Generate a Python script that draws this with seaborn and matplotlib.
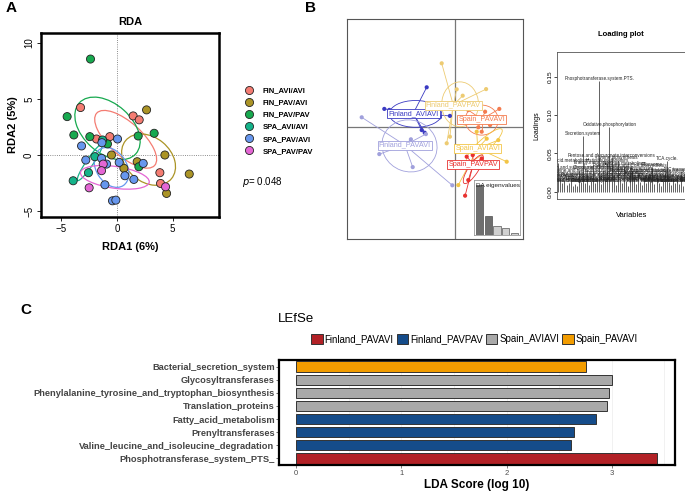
import numpy as np
import pandas as pd
import matplotlib
matplotlib.use('Agg')
import matplotlib.pyplot as plt
from matplotlib.patches import Ellipse
from matplotlib.ticker import MultipleLocator
import seaborn as sns

# ---------------- A: RDA sample scores ----------------
rda_groups = ['FIN_AVI/AVI', 'FIN_PAV/AVI', 'FIN_PAV/PAV', 'SPA_AVI/AVI', 'SPA_PAV/AVI', 'SPA_PAV/PAV']
rda_colors = ['#F47C72', '#AB9426', '#17A94F', '#14B38A', '#6797EE', '#E466D4']
rda_group = (['FIN_AVI/AVI'] * 7 + ['FIN_PAV/AVI'] * 7 + ['FIN_PAV/PAV'] * 8
             + ['SPA_AVI/AVI'] * 4 + ['SPA_PAV/AVI'] * 13 + ['SPA_PAV/PAV'] * 4)
rda1 = [-3.25, 1.46, 2.00, -1.82, -0.63, 3.85, 3.91,
        2.66, -0.48, 0.63, 1.82, 4.30, 6.48, 4.45,
        -2.36, -4.45, -3.85, -2.42, -0.84, 1.91, 3.34, 1.97,
        -1.28, -1.97, -2.54, -3.91,
        0.06, -1.34, -3.16, -2.78, -1.37, -0.92, 0.21, 2.36, 0.72, 1.52, -1.07, -0.39, -0.09,
        -1.22, -1.37, -2.48, 4.36]
rda2 = [4.24, 3.49, 3.14, 1.43, 1.64, -1.58, -2.54,
        4.03, 0.00, -1.19, -0.60, 0.00, -1.70, -3.43,
        8.57, 3.43, 1.79, 1.64, 0.99, 1.70, 1.94, -1.05,
        1.34, -0.15, -1.58, -2.30,
        1.43, 1.10, 0.81, -0.45, -0.30, -0.81, -0.66, -0.75, -1.85, -2.18, -2.66, -4.09, -4.03,
        -0.81, -1.40, -2.93, -2.84]
rda_pvalue = '0.048'

# ---------------- B: DAPC scatter ----------------
dapc_groups = ['Finland_AVIAVI', 'Finland_PAVAVI', 'Finland_PAVPAV', 'Spain_PAVAVI', 'Spain_AVIAVI', 'Spain_PAVPAV']
dapc_colors = ['#3A3AC2', '#A0A0DC', '#EDCB72', '#F47B4E', '#F2C546', '#E8312F']
dapc_center_x = [-2.07, -2.49, -0.07, 1.35, 1.15, 0.93]
dapc_center_y = [0.67, -0.92, 1.08, 0.37, -1.08, -1.87]
dapc_ell_x = [-1.96, -2.26, 0.27, 1.35, 1.48, 0.93]
dapc_ell_y = [0.64, -0.96, 1.12, 0.33, -0.92, -2.13]
dapc_ell_a = [1.31, 1.39, 1.12, 0.83, 1.18, 0.84]
dapc_ell_b = [0.67, 1.29, 0.92, 0.75, 0.30, 0.25]
dapc_ell_angle = [0, -20, 90, 0, 42, 57]
dapc_group = (['Finland_AVIAVI'] * 7 + ['Finland_PAVAVI'] * 6 + ['Finland_PAVPAV'] * 6
              + ['Spain_PAVAVI'] * 7 + ['Spain_AVIAVI'] * 5 + ['Spain_PAVPAV'] * 5)
dapc_ld1 = [-1.40, -3.52, -3.27, -0.24, -0.74, -1.65, -1.50,
            -4.65, -3.77, -2.10, -0.12, -2.19, -1.44,
            -0.65, 1.57, 0.10, -0.24, -0.40, 0.40,
            2.23, 1.52, 0.68, 1.18, 1.77, 1.35, 0.90,
            2.60, 2.18, 0.18, 1.10, 1.60,
            0.52, 0.60, 0.90, 1.35, 0.68]
dapc_ld2 = [1.97, 0.89, 0.84, 0.54, 0.47, -0.17, -0.30,
            0.47, -1.37, -2.02, -2.93, -0.63, -0.37,
            3.17, 1.88, 1.87, -0.50, -0.83, 1.55,
            0.89, 0.75, 0.83, -0.03, 0.08, -0.25, 0.30,
            -1.75, -0.67, -2.92, -0.25, -0.60,
            -3.45, -1.50, -1.42, -1.59, -2.67]
da_eigenvalues = [50.0, 19.3, 9.3, 6.7, 2.3]

# ---------------- B: loading plot ----------------
var_names = [
    'Cyanoamino.acid.metabolism', 'Two.component.system', 'Amino.sugar.and.nucleotide.sugar.metabolism',
    'Aminoacyl.tRNA.biosynthesis', 'Arginine.and.proline.metabolism', 'Bacterial.chemotaxis',
    'Bacterial.motility.proteins', 'Benzoate.degradation', 'Butanoate.metabolism',
    'Carbon.fixation.pathways.in.prokaryotes', 'Starch.and.sucrose.metabolism',
    'Chaperones.and.folding.catalysts', 'Secretion.system', 'Chromosome',
    'Cysteine.and.methionine.metabolism', 'DNA.repair.and.recombination.proteins',
    'DNA.replication.proteins', 'Energy.metabolism', 'Fatty.acid.biosynthesis',
    'Fructose.and.mannose.metabolism', 'Phosphotransferase.system.PTS.', 'Galactose.metabolism',
    'Glycolysis...Gluconeogenesis', 'Glycine..serine.and.threonine.metabolism', 'Histidine.metabolism',
    'Oxidative.phosphorylation', 'Pentose.and.glucuronate.interconversions', 'Homologous.recombination',
    'Lipopolysaccharide.biosynthesis', 'Lysine.biosynthesis', 'Methane.metabolism', 'Mismatch.repair',
    'Nitrogen.metabolism', 'Nucleotide.excision.repair', 'One.carbon.pool.by.folate',
    'Pantothenate.and.CoA.biosynthesis', 'Glycosyltransferases', 'Pentose.phosphate.pathway',
    'Peptidases', 'Peptidoglycan.biosynthesis', 'Porphyrin.metabolism', 'Propanoate.metabolism',
    'Protein.export', 'Purine.metabolism', 'Pyrimidine.metabolism', 'Pyruvate.metabolism', 'Ribosome',
    'Ribosome.Biogenesis', 'RNA.degradation', 'RNA.polymerase', 'Selenocompound.metabolism',
    'Sulfur.metabolism', 'Terpenoid.backbone.biosynthesis', 'TCA.cycle.', 'Thiamine.metabolism',
    'Transcription.factors', 'Transcription.machinery', 'Translation.factors', 'Transporters',
    'Tryptophan.metabolism', 'ABC.transporters', 'Tyrosine.metabolism', 'Ubiquinone.biosynthesis',
    'Valine..leucine.and.isoleucine.biosynthesis', 'Vitamin.B6.metabolism',
    'Membrane.and.intracellular.structural.molecules', 'Inositol.phosphate.metabolism',
    'Lipid.metabolism', 'Glutathione.metabolism', 'Folate.biosynthesis']
var_loadings = [0.038, 0.021, 0.012, 0.015, 0.009, 0.011, 0.018, 0.008, 0.010, 0.007,
                0.029, 0.013, 0.073, 0.011, 0.024, 0.009, 0.014, 0.035, 0.012, 0.019,
                0.145, 0.010, 0.028, 0.015, 0.038, 0.085, 0.044, 0.022, 0.009, 0.041,
                0.017, 0.011, 0.033, 0.014, 0.008, 0.031, 0.027, 0.019, 0.010, 0.025,
                0.013, 0.009, 0.016, 0.011, 0.022, 0.014, 0.032, 0.010, 0.018, 0.012,
                0.008, 0.015, 0.024, 0.040, 0.013, 0.009, 0.017, 0.012, 0.020, 0.010,
                0.026, 0.008, 0.016, 0.011, 0.013, 0.009, 0.012, 0.015, 0.010, 0.013]

# ---------------- C: LEfSe ----------------
lefse_features = ['Bacterial_secretion_system', 'Glycosyltransferases',
                  'Phenylalanine_tyrosine_and_tryptophan_biosynthesis', 'Translation_proteins',
                  'Fatty_acid_metabolism', 'Prenyltransferases',
                  'Valine_leucine_and_isoleucine_degradation', 'Phosphotransferase_system_PTS_']
lefse_lda = [2.75, 3.00, 2.97, 2.95, 2.85, 2.64, 2.61, 3.43]
lefse_class = ['Spain_PAVAVI', 'Spain_AVIAVI', 'Spain_AVIAVI', 'Spain_AVIAVI',
               'Finland_PAVPAV', 'Finland_PAVPAV', 'Finland_PAVPAV', 'Finland_PAVAVI']
lefse_classes = ['Finland_PAVAVI', 'Finland_PAVPAV', 'Spain_AVIAVI', 'Spain_PAVAVI']
lefse_colors = ['#B22126', '#154C8A', '#A9A9A9', '#F29C00']

plt.rcParams['font.family'] = ['Liberation Sans', 'DejaVu Sans']

W, H = 685, 492
fig = plt.figure(figsize=(6.85, 4.92), dpi=100)


def box(x0, y0, x1, y1):
    # pixel box (top-left origin) -> figure fraction rect
    return [x0 / W, 1 - y1 / H, (x1 - x0) / W, (y1 - y0) / H]


# ===== panel A =====
axA = fig.add_axes(box(41, 33.3, 219.3, 216.7))
df_rda = pd.DataFrame({'RDA1': rda1, 'RDA2': rda2, 'group': rda_group})
axA.axhline(0, color='#666666', ls=':', lw=0.6, zorder=0)
axA.axvline(0, color='#666666', ls=':', lw=0.6, zorder=0)
for g, c in zip(rda_groups, rda_colors):
    sub = df_rda[df_rda.group == g]
    vals, vecs = np.linalg.eigh(np.cov(sub.RDA1, sub.RDA2))
    ang = np.degrees(np.arctan2(vecs[1, 1], vecs[0, 1]))
    axA.add_patch(Ellipse((sub.RDA1.mean(), sub.RDA2.mean()), 2 * np.sqrt(vals[1]),
                          2 * np.sqrt(vals[0]), angle=ang, fill=False, ec=c, lw=0.9, zorder=1))
sns.scatterplot(data=df_rda, x='RDA1', y='RDA2', hue='group', hue_order=rda_groups,
                palette=rda_colors, s=34, edgecolor='#222222', linewidth=0.6, ax=axA, zorder=3)
axA.set_xlim(-6.79, 9.17)
axA.set_ylim(-5.51, 10.87)
axA.set_xticks([-5, 0, 5])
axA.set_yticks([-5, 0, 5, 10])
axA.tick_params(labelsize=7, length=3, width=0.6, pad=2)
axA.tick_params(axis='y', labelrotation=90)
for lbl in axA.get_yticklabels():
    lbl.set_va('center')
for s in axA.spines.values():
    s.set_linewidth(1.8)
axA.set_xlabel('RDA1 (6%)', fontsize=8, fontweight='bold', labelpad=6)
axA.set_ylabel('RDA2 (5%)', fontsize=8, fontweight='bold', labelpad=4)
axA.set_title('RDA', fontsize=8, fontweight='bold', pad=6)
sns.move_legend(axA, 'upper left', bbox_to_anchor=(245 / W, 1 - 87 / H), bbox_transform=fig.transFigure,
                frameon=False, title=None, borderpad=0, borderaxespad=0, handlelength=1.0,
                handletextpad=1.3, labelspacing=0.62, prop={'size': 5.5, 'weight': 'bold'})
fig.text(242 / W, 1 - 182 / H, r'$\it{p}$= ' + rda_pvalue, fontsize=7, va='center')

# ===== panel B: DAPC =====
axB = fig.add_axes(box(346.7, 19.3, 522.7, 239.3))
axB.axhline(0, color='#777777', lw=0.9, zorder=0)
axB.axvline(0, color='#777777', lw=0.9, zorder=0)
df_dapc = pd.DataFrame({'LD1': dapc_ld1, 'LD2': dapc_ld2, 'group': dapc_group})
for i, (g, c) in enumerate(zip(dapc_groups, dapc_colors)):
    sub = df_dapc[df_dapc.group == g]
    for x, y in zip(sub.LD1, sub.LD2):
        axB.plot([dapc_center_x[i], x], [dapc_center_y[i], y], color=c, lw=0.6, zorder=1)
    axB.add_patch(Ellipse((dapc_ell_x[i], dapc_ell_y[i]), 2 * dapc_ell_a[i], 2 * dapc_ell_b[i],
                          angle=dapc_ell_angle[i], fill=False, ec=c, lw=0.6, zorder=1))
sns.scatterplot(data=df_dapc, x='LD1', y='LD2', hue='group', hue_order=dapc_groups,
                palette=dapc_colors, s=9, linewidth=0, legend=False, ax=axB, zorder=2)
for i, (g, c) in enumerate(zip(dapc_groups, dapc_colors)):
    axB.text(dapc_center_x[i], dapc_center_y[i], g, color=c, fontsize=5.2, ha='center', va='center',
             zorder=4, bbox=dict(boxstyle='square,pad=0.15', fc='white', ec=c, lw=0.6))
axB.set_xlim(-5.4, 3.4)
axB.set_ylim(-5.63, 5.37)
axB.set_xticks([])
axB.set_yticks([])
axB.set_xlabel('')
axB.set_ylabel('')
for s in axB.spines.values():
    s.set_linewidth(0.8)
    s.set_color('#555555')

axE = fig.add_axes(box(474, 180, 520, 235))
axE.bar(range(len(da_eigenvalues)), da_eigenvalues, width=0.85,
        color=['#6E6E6E', '#6E6E6E', '#D0D0D0', '#D0D0D0', '#D0D0D0'], edgecolor='#333333', lw=0.4)
axE.set_xlim(-0.65, 4.65)
axE.set_ylim(0, 55)
axE.set_xticks([])
axE.set_yticks([])
axE.text(0.05, 0.9, 'DA eigenvalues', transform=axE.transAxes, fontsize=4.6, va='center', color='#222222')
for s in axE.spines.values():
    s.set_linewidth(0.6)
    s.set_color('#999999')

# ===== panel B: loading plot =====
axL = fig.add_axes(box(557.3, 51.7, 706, 199))
pos = np.arange(1, len(var_loadings) + 1)
axL.vlines(pos, 0, var_loadings, color='#222222', lw=0.5)
for x, y, name in zip(pos, var_loadings, var_names):
    if y >= 0.011:
        axL.text(x, y, name, fontsize=3.3, ha='center', va='bottom', color='#222222', clip_on=True)
axL.set_xlim(0.5, 73.2)
axL.set_ylim(-0.0095, 0.1828)
axL.set_xticks([])
axL.set_yticks([0.0, 0.05, 0.10, 0.15])
axL.set_yticklabels(['0.00', '0.05', '0.10', '0.15'])
axL.tick_params(axis='y', labelsize=4.6, labelrotation=90, length=2, width=0.5, pad=1.5)
for lbl in axL.get_yticklabels():
    lbl.set_va('center')
for s in axL.spines.values():
    s.set_linewidth(0.6)
    s.set_color('#555555')
axL.set_ylabel('Loadings', fontsize=5, labelpad=5)
axL.set_xlabel('Variables', fontsize=5.5, labelpad=9)
fig.text(621 / W, 1 - 35 / H, 'Loading plot', fontsize=5.5, fontweight='bold', ha='center', va='center')

# ===== panel C: LEfSe =====
axC = fig.add_axes(box(278.7, 359.7, 675, 465.3))
df_c = pd.DataFrame({'feature': lefse_features, 'lda': lefse_lda, 'cls': lefse_class})
axC.set_axisbelow(True)
axC.xaxis.set_minor_locator(MultipleLocator(0.5))
axC.grid(axis='x', which='both', color='#EBEBEB', lw=0.5)
axC.grid(axis='y', which='major', color='#EBEBEB', lw=0.5)
sns.barplot(data=df_c, x='lda', y='feature', hue='cls', hue_order=lefse_classes, order=lefse_features,
            palette=lefse_colors, saturation=1, dodge=False, width=0.8, edgecolor='#333333',
            linewidth=0.7, ax=axC)
axC.set_xlim(-0.164, 3.60)
axC.set_ylim(7.535, -0.535)
axC.set_xticks([0, 1, 2, 3])
axC.tick_params(axis='x', labelsize=5.5, colors='#4D4D4D', length=2, width=0.5, pad=1.5)
axC.tick_params(axis='y', labelsize=6.7, labelcolor='#444444', color='#333333', length=2, width=0.5, pad=1)
axC.tick_params(which='minor', length=0)
for lbl in axC.get_yticklabels():
    lbl.set_fontweight('bold')
for s in axC.spines.values():
    s.set_linewidth(1.6)
    s.set_color('black')
axC.set_ylabel('')
axC.set_xlabel('LDA Score (log 10)', fontsize=8.5, fontweight='bold', labelpad=1)
sns.move_legend(axC, 'center left', bbox_to_anchor=(311 / W, 1 - 339 / H), bbox_transform=fig.transFigure,
                ncol=4, frameon=False, title=None, borderpad=0, borderaxespad=0, handlelength=1.2,
                handleheight=1.2, handletextpad=0.2, columnspacing=0.3, fontsize=7)
fig.text(278 / W, 1 - 319 / H, 'LEfSe', fontsize=9.5, va='center', ha='left')

# panel letters
fig.text(6 / W, 1 - 8 / H, 'A', fontsize=11, fontweight='bold', va='center')
fig.text(305 / W, 1 - 8 / H, 'B', fontsize=11, fontweight='bold', va='center')
fig.text(20 / W, 1 - 310 / H, 'C', fontsize=11, fontweight='bold', va='center')

fig.savefig('out.png', dpi=100)
